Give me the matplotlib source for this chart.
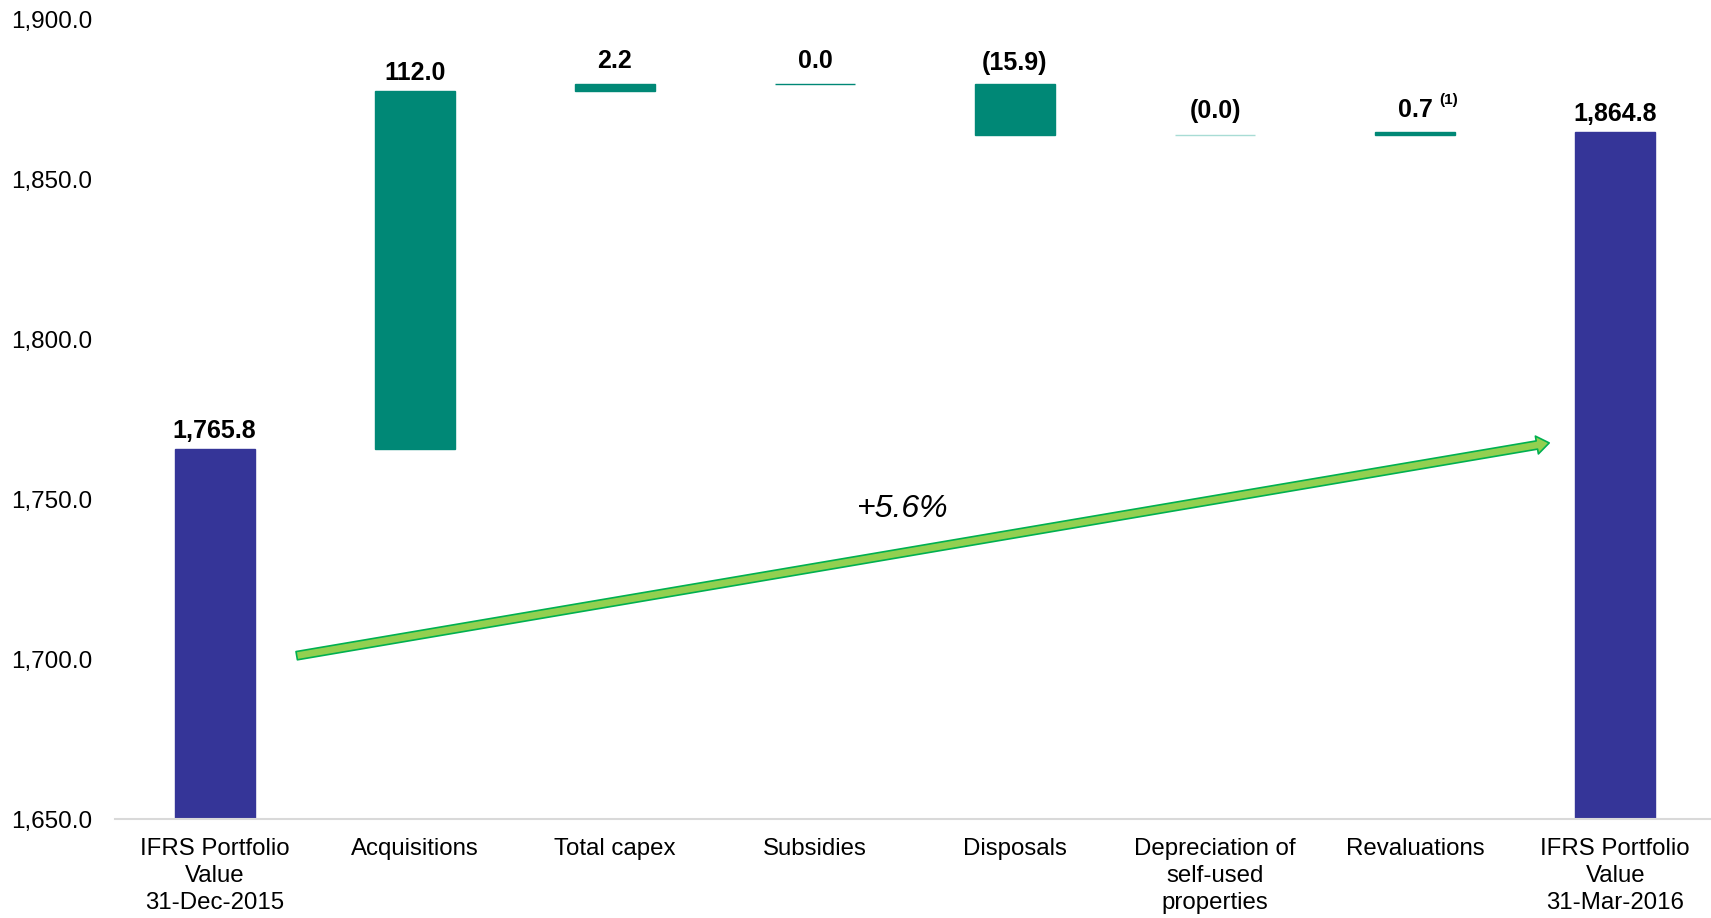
import matplotlib.pyplot as plt
import numpy as np
from matplotlib.patches import FancyArrowPatch

plt.rcParams['font.family'] = ['Liberation Sans', 'DejaVu Sans']

# Data
categories = ["IFRS Portfolio\nValue\n31-Dec-2015", "Acquisitions", "Total capex", "Subsidies",
              "Disposals", "Depreciation of\nself-used\nproperties", "Revaluations",
              "IFRS Portfolio\nValue\n31-Mar-2016"]
start_value = 1765.8
changes = [112.0, 2.2, 0.0, -15.9, -0.0, 0.7]
end_value = 1864.8
value_labels = ["1,765.8", "112.0", "2.2", "0.0", "(15.9)", "(0.0)", "0.7", "1,864.8"]
yticks = [1650, 1700, 1750, 1800, 1850, 1900]

# Arrow annotation (data coords)
arrow_start = (0.41, 1701.2)
arrow_end = (6.67, 1767.7)
growth_text = "+5.6%"
growth_pos = (3.44, 1746.9)

BLUE = '#353598'
TEAL = '#008876'

# waterfall bottoms / heights
bottoms = [1650]
heights = [start_value - 1650]
running = start_value
for c in changes:
    bottoms.append(min(running, running + c))
    heights.append(abs(c))
    running += c
bottoms.append(1650)
heights.append(end_value - 1650)
tops = [b + h for b, h in zip(bottoms, heights)]

colors = [BLUE] + [TEAL] * len(changes) + [BLUE]
edges = [BLUE, TEAL, TEAL, TEAL, TEAL, '#a8dcd5', TEAL, BLUE]

fig = plt.figure(figsize=(17.11, 9.18), dpi=100)
ax = fig.add_axes([0.067, 0.1073, 0.9355, 0.8713])

x = np.arange(len(categories))
ax.bar(x, heights, bottom=bottoms, width=0.40, color=colors, edgecolor=edges, linewidth=1.0)

# small bars have their labels sitting a little higher
label_offsets = [8, 8, 11, 11, 10, 12, 11, 8]
for i, (t, lbl) in enumerate(zip(tops, value_labels)):
    ax.annotate(lbl, (x[i], t), xytext=(0, label_offsets[i]), textcoords='offset points',
                ha='center', va='baseline', fontsize=18, fontweight='bold')
# footnote marker on revaluations
ax.annotate("(1)", (x[6], tops[6]), xytext=(24, 20), textcoords='offset points',
            ha='center', va='baseline', fontsize=11, fontweight='bold')

arrow = FancyArrowPatch(arrow_start, arrow_end,
                        arrowstyle="simple,head_length=0.9,head_width=1.3,tail_width=0.6",
                        mutation_scale=10, facecolor='#92d050', edgecolor='#00b050',
                        linewidth=1.2, shrinkA=0, shrinkB=0)
ax.add_patch(arrow)
ax.text(growth_pos[0], growth_pos[1], growth_text, ha='center', va='center',
        fontsize=23, fontstyle='italic')

ax.set_xlim(-0.5, len(categories) - 0.5)
ax.set_ylim(1650, 1900)
ax.set_yticks(yticks)
ax.set_yticklabels([f"{v:,.1f}" for v in yticks], fontsize=17.5)
ax.set_xticks(x)
ax.set_xticklabels(categories, fontsize=17.3, linespacing=1.32)
ax.tick_params(axis='both', length=0)
ax.tick_params(axis='y', pad=16)
ax.tick_params(axis='x', pad=13)
for s in ['top', 'right', 'left']:
    ax.spines[s].set_visible(False)
ax.spines['bottom'].set_color('#d9d9d9')
ax.spines['bottom'].set_linewidth(1.5)

fig.savefig("out.png", dpi=100)
